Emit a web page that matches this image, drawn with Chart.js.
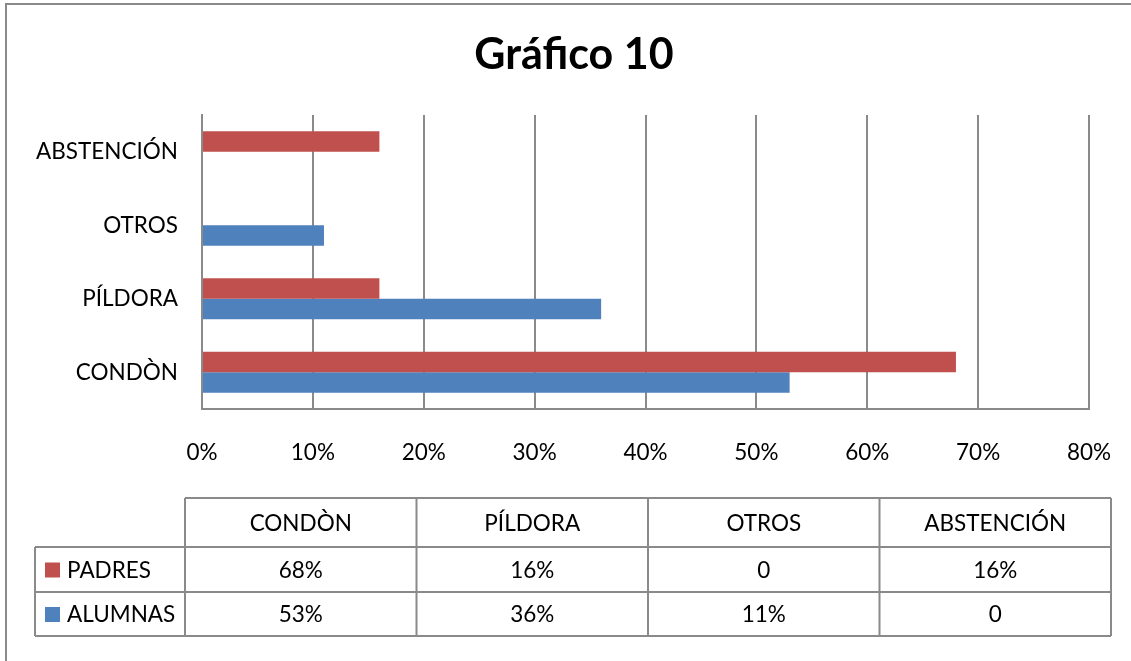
<!DOCTYPE html>
<html>
<head>
<meta charset="utf-8">
<script src="https://cdn.jsdelivr.net/npm/chart.js@4"></script>
<style>
  html, body { margin: 0; padding: 0; background: #fff; }
  #wrap { width: 1131px; height: 661px; }
</style>
</head>
<body>
<div id="wrap"><canvas id="chart" width="1131" height="661"></canvas></div>
<script>
const categories = ['CONDÒN', 'PÍLDORA', 'OTROS', 'ABSTENCIÓN'];
const seriesNames = ['PADRES', 'ALUMNAS'];
const padres = [68, 16, 0, 16];
const alumnas = [53, 36, 11, 0];
const xTicks = [0, 10, 20, 30, 40, 50, 60, 70, 80];

const RED = '#C0504D';
const BLUE = '#4F81BD';
const GRID = '#8a8a8a';
const FONT = 'Lato, "Open Sans", sans-serif';

// outer frame + data table under the plot (Excel style)
const tablePlugin = {
  id: 'dataTable',
  afterDraw(chart) {
    const ctx = chart.ctx;
    ctx.save();
    ctx.strokeStyle = GRID;
    ctx.lineWidth = 2;
    ctx.strokeRect(6, 4, 1300, 800);

    const cols = [185, 416.5, 648, 879.5, 1111];
    const rows = [498, 547, 592, 636];
    const left = 35;

    ctx.beginPath();
    ctx.moveTo(cols[0], rows[0]); ctx.lineTo(cols[4], rows[0]);
    for (let r = 1; r < rows.length; r++) {
      ctx.moveTo(left, rows[r]); ctx.lineTo(cols[4], rows[r]);
    }
    ctx.moveTo(left, rows[1]); ctx.lineTo(left, rows[3]);
    cols.forEach(c => { ctx.moveTo(c, rows[0]); ctx.lineTo(c, rows[3]); });
    ctx.stroke();

    ctx.font = '22.5px ' + FONT;
    ctx.fillStyle = '#000';
    ctx.textBaseline = 'middle';
    ctx.textAlign = 'center';
    chart.data.labels.forEach((lab, i) => {
      ctx.fillText(lab, (cols[i] + cols[i + 1]) / 2, (rows[0] + rows[1]) / 2 + 1);
    });
    chart.data.datasets.forEach((ds, r) => {
      const cy = (rows[r + 1] + rows[r + 2]) / 2 + 1;
      ds.data.forEach((v, i) => {
        ctx.fillText(v === 0 ? '0' : v + '%', (cols[i] + cols[i + 1]) / 2, cy);
      });
      ctx.fillStyle = ds.backgroundColor;
      ctx.fillRect(45, cy - 8, 15, 15);
      ctx.fillStyle = '#000';
      ctx.textAlign = 'left';
      ctx.fillText(ds.label, 67, cy);
      ctx.textAlign = 'center';
    });
    ctx.restore();
  }
};

const config = {
  type: 'bar',
  data: {
    labels: categories,
    datasets: [
      { label: seriesNames[0], data: padres, backgroundColor: RED, barPercentage: 1, categoryPercentage: 0.56 },
      { label: seriesNames[1], data: alumnas, backgroundColor: BLUE, barPercentage: 1, categoryPercentage: 0.56 }
    ]
  },
  options: {
    indexAxis: 'y',
    responsive: false,
    animation: false,
    layout: { padding: { left: 18, right: 1, top: 0, bottom: 0 } },
    plugins: {
      legend: { display: false },
      tooltip: { enabled: false },
      title: {
        display: true,
        text: 'Gráfico 10',
        color: '#000',
        font: { family: FONT, size: 43, weight: 'bold' },
        padding: { top: 29, bottom: 34.4 }
      }
    },
    scales: {
      x: {
        min: 0, max: 80,
        afterBuildTicks(scale) { scale.ticks = xTicks.map(v => ({ value: v })); },
        afterFit(scale) {
          scale.height = 252;
          scale.paddingLeft = 0;
          scale.paddingRight = 42;
        },
        grid: { color: GRID, lineWidth: 2, drawTicks: false },
        border: { color: GRID, width: 2 },
        ticks: {
          padding: 30,
          color: '#000',
          font: { family: FONT, size: 22.5 },
          callback: v => v + '%'
        }
      },
      y: {
        reverse: true,
        afterFit(scale) { scale.width = 184; },
        grid: { display: false, drawTicks: false },
        border: { display: true, color: GRID, width: 2 },
        ticks: { padding: 24, color: '#000', font: { family: FONT, size: 22.5 } }
      }
    }
  },
  plugins: [tablePlugin]
};

var chart = new Chart(document.getElementById('chart'), config);
</script>
</body>
</html>
